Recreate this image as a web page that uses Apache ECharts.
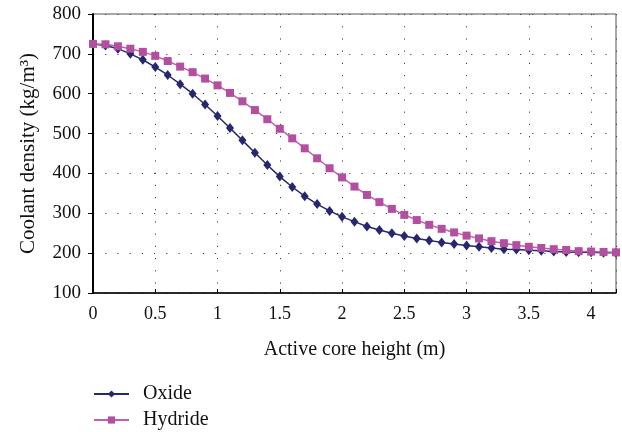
<!DOCTYPE html>
<html>
<head>
<meta charset="utf-8">
<script src="https://cdn.jsdelivr.net/npm/echarts@6/dist/echarts.min.js"></script>
<style>
  html, body { margin: 0; padding: 0; background: #fff; }
  #main { width: 622px; height: 432px; }
</style>
</head>
<body>
<div id="main"></div>
<script>
// core height positions (m), every 0.1 from 0 to 4.2
const heights = [0, 0.1, 0.2, 0.3, 0.4, 0.5, 0.6, 0.7, 0.8, 0.9,
  1.0, 1.1, 1.2, 1.3, 1.4, 1.5, 1.6, 1.7, 1.8, 1.9,
  2.0, 2.1, 2.2, 2.3, 2.4, 2.5, 2.6, 2.7, 2.8, 2.9,
  3.0, 3.1, 3.2, 3.3, 3.4, 3.5, 3.6, 3.7, 3.8, 3.9,
  4.0, 4.1, 4.2]

// coolant density, kg/m3
const oxideDensity = [725, 721, 713, 700, 685, 667, 647, 624, 600, 573,
  544, 514, 483, 452, 421, 392, 366, 343, 323, 306,
  291, 279, 267, 258, 250, 243, 237, 232, 227, 223,
  219, 216, 213, 210, 209, 207, 206, 204, 203, 202,
  202, 201, 201]
const hydrideDensity = [725, 724, 719, 713, 705, 695, 682, 668, 654, 638,
  621, 602, 581, 559, 536, 512, 488, 463, 438, 413,
  390, 367, 346, 328, 311, 296, 283, 271, 261, 252,
  244, 237, 230, 225, 220, 216, 213, 210, 208, 205,
  204, 203, 202]

const oxideColor = '#272770',
      hydrideColor = '#b34fa0'
const serif = '"Liberation Serif", "DejaVu Serif", serif'

const chart = echarts.init(document.getElementById('main'), null, { renderer: 'canvas' })

const dotted = {
  show: true,
  lineStyle: { color: '#444', width: 1, type: [1.2, 11] }
}

const option = {
  animation: false,
  backgroundColor: '#fff',
  grid: {
    left: 93, right: 6, top: 14, bottom: 139,
    show: true,
    borderColor: '#555',
    borderWidth: 1
  },
  legend: {
    orient: 'vertical',
    left: 93,
    top: 384,
    padding: 0,
    itemWidth: 35,
    itemHeight: 9,
    itemGap: 6,
    textStyle: { fontFamily: serif, fontSize: 20, color: '#111', padding: [0, 0, 0, 9] },
    data: ['Oxide', 'Hydride']
  },
  xAxis: {
    type: 'value',
    min: 0,
    max: 4.2,
    interval: 0.5,
    name: 'Active core height (m)',
    nameLocation: 'middle',
    nameGap: 47,
    nameTextStyle: { fontFamily: serif, fontSize: 20, color: '#111' },
    axisLine: { show: true, lineStyle: { color: '#000', width: 1.5 } },
    axisTick: { show: true, inside: true, length: 4, lineStyle: { color: '#000' } },
    axisLabel: {
      fontFamily: serif, fontSize: 18, color: '#111', margin: 12,
      formatter: function (v) {
        return Math.abs(v * 2 - Math.round(v * 2)) < 1e-6 ? String(v) : ''
      }
    },
    splitLine: dotted
  },
  yAxis: {
    type: 'value',
    min: 100,
    max: 800,
    interval: 100,
    name: 'Coolant density (kg/m³)',
    nameLocation: 'middle',
    nameGap: 54,
    nameTextStyle: { fontFamily: serif, fontSize: 21, color: '#111' },
    axisLine: { show: true, lineStyle: { color: '#000', width: 2 } },
    axisTick: { show: true, length: 5, lineStyle: { color: '#000' } },
    axisLabel: { fontFamily: serif, fontSize: 19, color: '#111', margin: 12 },
    splitLine: dotted
  },
  series: [
    {
      name: 'Oxide',
      type: 'line',
      data: heights.map((h, i) => [h, oxideDensity[i]]),
      symbol: 'diamond',
      symbolSize: [8, 10],
      clip: false,
      lineStyle: { color: oxideColor, width: 1.5 },
      itemStyle: { color: oxideColor },
      z: 3
    },
    {
      name: 'Hydride',
      type: 'line',
      data: heights.map((h, i) => [h, hydrideDensity[i]]),
      symbol: 'rect',
      symbolSize: 8,
      clip: false,
      lineStyle: { color: '#bf5fad', width: 1.5 },
      itemStyle: { color: hydrideColor },
      z: 4
    }
  ]
}

chart.setOption(option)
</script>
</body>
</html>
